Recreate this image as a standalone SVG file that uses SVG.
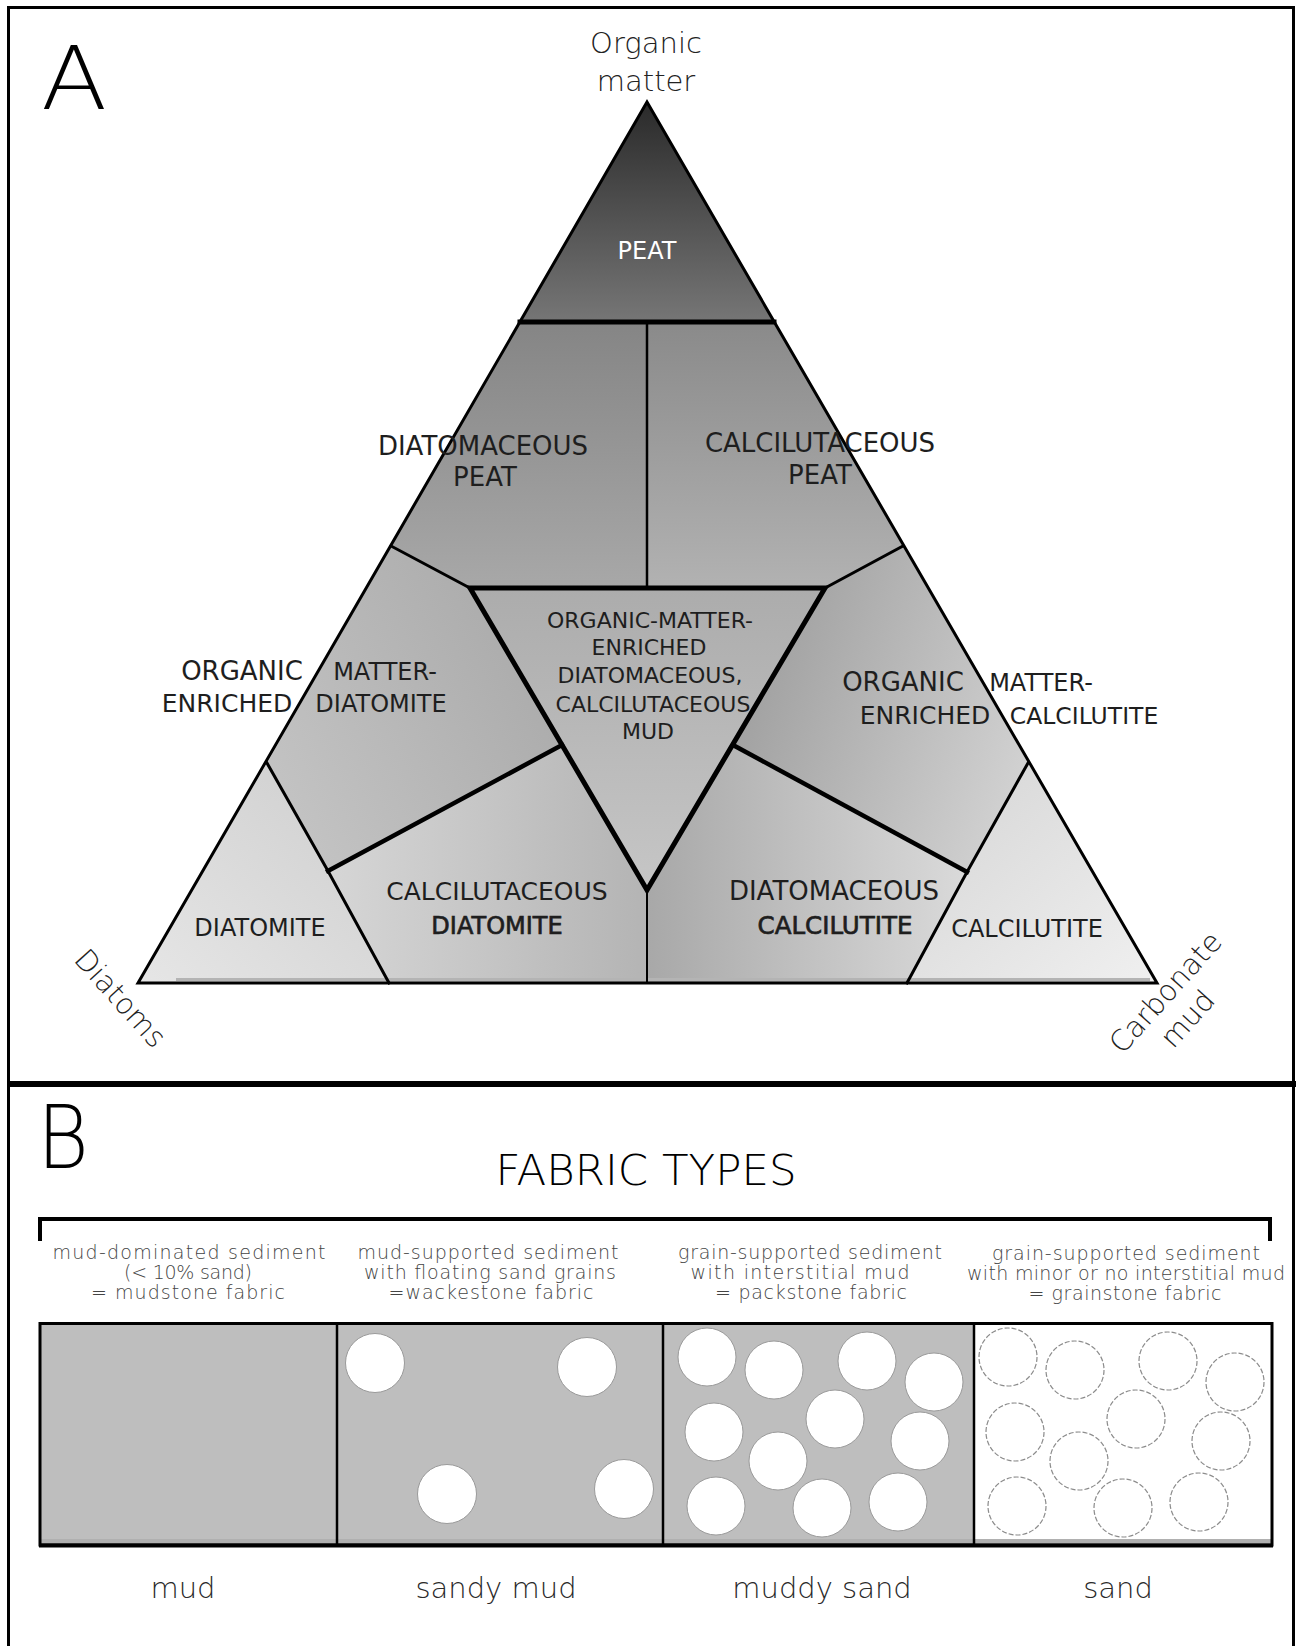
<svg xmlns="http://www.w3.org/2000/svg" width="1296" height="1646" viewBox="0 0 1296 1646">
<style>
.lbl{font-family:"DejaVu Sans","Liberation Sans",sans-serif;fill:#1e1e1e;text-anchor:middle}
.big{font-family:"DejaVu Sans","Liberation Sans",sans-serif;fill:#000;font-weight:200}
.axis{font-family:"DejaVu Sans","Liberation Sans",sans-serif;fill:#222;font-size:29px;text-anchor:middle;font-weight:200}
.sm{font-family:"DejaVu Sans","Liberation Sans",sans-serif;fill:#444;font-size:19px;text-anchor:middle;font-weight:200}
.bot{font-family:"DejaVu Sans","Liberation Sans",sans-serif;fill:#2a2a2a;font-size:29px;text-anchor:middle;font-weight:200}
.edge{fill:none;stroke:#000;stroke-linejoin:miter;stroke-linecap:square}
.grain{fill:#fff;stroke:#9a9a9a;stroke-width:1}
.dgrain{fill:none;stroke:#8c8c8c;stroke-width:1.2;stroke-dasharray:5 2}
</style>
<defs>
<linearGradient id="gPeat" gradientUnits="userSpaceOnUse" x1="0" y1="102" x2="0" y2="322"><stop offset="0" stop-color="#2a2a2a"/><stop offset="1" stop-color="#767676"/></linearGradient>
<linearGradient id="gUpL" gradientUnits="userSpaceOnUse" x1="0" y1="322" x2="0" y2="588"><stop offset="0" stop-color="#858585"/><stop offset="1" stop-color="#a8a8a8"/></linearGradient>
<linearGradient id="gUpR" gradientUnits="userSpaceOnUse" x1="0" y1="322" x2="0" y2="588"><stop offset="0" stop-color="#8a8a8a"/><stop offset="1" stop-color="#b2b2b2"/></linearGradient>
<linearGradient id="gCen" gradientUnits="userSpaceOnUse" x1="0" y1="588" x2="0" y2="890"><stop offset="0" stop-color="#acacac"/><stop offset="1" stop-color="#c6c6c6"/></linearGradient>
<linearGradient id="gOmL" x1="0" y1="0.8" x2="1" y2="0.2"><stop offset="0" stop-color="#c4c4c4"/><stop offset="1" stop-color="#a8a8a8"/></linearGradient>
<linearGradient id="gOmR" x1="0" y1="0.3" x2="1" y2="0.7"><stop offset="0" stop-color="#9c9c9c"/><stop offset="1" stop-color="#d2d2d2"/></linearGradient>
<linearGradient id="gDia" x1="1" y1="0" x2="0" y2="1"><stop offset="0" stop-color="#cdcdcd"/><stop offset="1" stop-color="#e6e6e6"/></linearGradient>
<linearGradient id="gCD" x1="0" y1="0.5" x2="1" y2="0.5"><stop offset="0" stop-color="#d6d6d6"/><stop offset="1" stop-color="#b4b4b4"/></linearGradient>
<linearGradient id="gDC" x1="0" y1="0.5" x2="1" y2="0.5"><stop offset="0" stop-color="#a8a8a8"/><stop offset="1" stop-color="#dadada"/></linearGradient>
<linearGradient id="gCal" x1="0" y1="0" x2="1" y2="1"><stop offset="0" stop-color="#d4d4d4"/><stop offset="1" stop-color="#f0f0f0"/></linearGradient>
</defs>

<g id="frame">
<path d="M8.5,1646 V7.5 H1293.5 V1646" fill="none" stroke="#000" stroke-width="3"/>
<line x1="7" y1="1084" x2="1296" y2="1084" stroke="#000" stroke-width="6"/>
</g>

<g id="panel-A">
<text class="big" transform="translate(41,109) scale(1.1,1)" font-size="88">A</text>
<g id="label-organic-matter">
<text class="axis" x="646" y="53">Organic</text>
<text class="axis" x="646" y="91">matter</text>
</g>
<g id="label-diatoms"><text class="axis" transform="translate(113,1005) rotate(48)">Diatoms</text></g>
<g id="label-carbonate-mud" transform="translate(1173,999) rotate(-48)">
<text class="axis" x="0" y="0">Carbonate</text>
<text class="axis" x="-5" y="34">mud</text>
</g>

<g id="region-peat">
<polygon points="647,102 774,322 520,322" fill="url(#gPeat)"/>
<text class="lbl" x="647" y="259" font-size="24" style="fill:#fff">PEAT</text>
</g>
<g id="region-diatomaceous-peat">
<polygon points="520,322 647,322 647,588 470,588 391,546" fill="url(#gUpL)"/>
</g>
<g id="region-calcilutaceous-peat">
<polygon points="647,322 774,322 903,546 825,588 647,588" fill="url(#gUpR)"/>
</g>
<g id="region-center">
<polygon points="470,588 825,588 647,890" fill="url(#gCen)"/>
</g>
<g id="region-om-diatomite">
<polygon points="391,546 470,588 562,745 328,871 267,763" fill="url(#gOmL)"/>
</g>
<g id="region-om-calcilutite">
<polygon points="903,546 1028,763 967,872 733,745 825,588" fill="url(#gOmR)"/>
</g>
<g id="region-diatomite">
<polygon points="267,763 328,871 389,983 138,983" fill="url(#gDia)"/>
</g>
<g id="region-calcilutaceous-diatomite">
<polygon points="328,871 562,745 647,890 647,983 389,983" fill="url(#gCD)"/>
</g>
<g id="region-diatomaceous-calcilutite">
<polygon points="647,890 733,745 967,872 907,983 647,983" fill="url(#gDC)"/>
</g>
<g id="region-calcilutite">
<polygon points="1028,763 1157,983 907,983 967,872" fill="url(#gCal)"/>
</g>
<line x1="176" y1="979.5" x2="1150" y2="979.5" stroke="#b4b4b4" stroke-width="3"/>

<g id="connectors">
<polygon class="edge" points="647,102 1157,983 138,983" stroke-width="3"/>
<line class="edge" x1="520" y1="322" x2="774" y2="322" stroke-width="5"/>
<line class="edge" x1="647" y1="322" x2="647" y2="588" stroke-width="2.5"/>
<line class="edge" x1="647" y1="890" x2="647" y2="983" stroke-width="2"/>
<polyline class="edge" points="391,546 470,588" stroke-width="3"/>
<polyline class="edge" points="903,546 825,588" stroke-width="3"/>
<polygon class="edge" points="470,588 825,588 647,890" stroke-width="5"/>
<line class="edge" x1="562" y1="745" x2="328" y2="871" stroke-width="4.5"/>
<line class="edge" x1="733" y1="745" x2="967" y2="872" stroke-width="4.5"/>
<polyline class="edge" points="267,763 328,871 389,983" stroke-width="3"/>
<polyline class="edge" points="1028,763 967,872 907,983" stroke-width="3"/>
</g>

<g id="labels-A">
<text class="lbl" x="483" y="455" font-size="26">DIATOMACEOUS</text>
<text class="lbl" x="485" y="486" font-size="26">PEAT</text>
<text class="lbl" x="820" y="452" font-size="26">CALCILUTACEOUS</text>
<text class="lbl" x="820" y="484" font-size="26">PEAT</text>
<text class="lbl" x="650" y="628" font-size="22">ORGANIC-MATTER-</text>
<text class="lbl" x="649" y="655" font-size="22">ENRICHED</text>
<text class="lbl" x="650" y="683" font-size="22">DIATOMACEOUS,</text>
<text class="lbl" x="653" y="712" font-size="22">CALCILUTACEOUS</text>
<text class="lbl" x="648" y="739" font-size="22">MUD</text>
<text class="lbl" x="242" y="680" font-size="26">ORGANIC</text>
<text class="lbl" x="385" y="680" font-size="24">MATTER-</text>
<text class="lbl" x="227" y="712" font-size="25">ENRICHED</text>
<text class="lbl" x="381" y="712" font-size="24">DIATOMITE</text>
<text class="lbl" x="903" y="691" font-size="26">ORGANIC</text>
<text class="lbl" x="1041" y="691" font-size="24">MATTER-</text>
<text class="lbl" x="925" y="724" font-size="25">ENRICHED</text>
<text class="lbl" x="1084" y="724" font-size="23.5">CALCILUTITE</text>
<text class="lbl" x="260" y="936" font-size="24">DIATOMITE</text>
<text class="lbl" x="497" y="900" font-size="25">CALCILUTACEOUS</text>
<text class="lbl" x="497" y="934" font-size="24" style="stroke:#1e1e1e;stroke-width:0.7">DIATOMITE</text>
<text class="lbl" x="834" y="900" font-size="26">DIATOMACEOUS</text>
<text class="lbl" x="835" y="934" font-size="24.5" style="stroke:#1e1e1e;stroke-width:0.7">CALCILUTITE</text>
<text class="lbl" x="1027" y="937" font-size="24">CALCILUTITE</text>
</g>
</g>

<g id="panel-B">
<text class="big" transform="translate(37,1168) scale(0.9,1)" font-size="88">B</text>
<text class="big" x="646" y="1185" font-size="43.5" text-anchor="middle">FABRIC TYPES</text>
<path id="bracket" d="M40,1241 V1219 H1270 V1241" fill="none" stroke="#000" stroke-width="4"/>

<g id="desc-mud">
<text class="sm" x="189" y="1259" textLength="273" lengthAdjust="spacing">mud-dominated sediment</text>
<text class="sm" x="188" y="1279" textLength="128" lengthAdjust="spacing">(&lt; 10% sand)</text>
<text class="sm" x="188" y="1299" textLength="194" lengthAdjust="spacing">=  mudstone fabric</text>
</g>
<g id="desc-sandy-mud">
<text class="sm" x="488" y="1259" textLength="261" lengthAdjust="spacing">mud-supported sediment</text>
<text class="sm" x="490" y="1279" textLength="252" lengthAdjust="spacing">with floating sand grains</text>
<text class="sm" x="491" y="1299" textLength="205" lengthAdjust="spacing">=wackestone fabric</text>
</g>
<g id="desc-muddy-sand">
<text class="sm" x="810" y="1259" textLength="264" lengthAdjust="spacing">grain-supported sediment</text>
<text class="sm" x="800" y="1279" textLength="219" lengthAdjust="spacing">with interstitial mud</text>
<text class="sm" x="811" y="1299" textLength="192" lengthAdjust="spacing">= packstone fabric</text>
</g>
<g id="desc-sand">
<text class="sm" x="1126" y="1260" textLength="268" lengthAdjust="spacing">grain-supported sediment</text>
<text class="sm" x="1126" y="1280" textLength="318" lengthAdjust="spacing">with minor or no interstitial mud</text>
<text class="sm" x="1125" y="1300" textLength="193" lengthAdjust="spacing">= grainstone fabric</text>
</g>

<g id="box-mud">
<rect x="39" y="1322" width="298" height="224" fill="#bebebe"/>
</g>
<g id="box-sandy-mud">
<rect x="337" y="1322" width="326" height="224" fill="#bebebe"/>
<circle class="grain" cx="375" cy="1363" r="29.5"/>
<circle class="grain" cx="587" cy="1367" r="29.5"/>
<circle class="grain" cx="447" cy="1494" r="29.5"/>
<circle class="grain" cx="624" cy="1489" r="29.5"/>
</g>
<g id="box-muddy-sand">
<rect x="663" y="1322" width="311" height="224" fill="#bebebe"/>
<circle class="grain" cx="707" cy="1357" r="29"/>
<circle class="grain" cx="774" cy="1370" r="29"/>
<circle class="grain" cx="867" cy="1361" r="29"/>
<circle class="grain" cx="934" cy="1382" r="29"/>
<circle class="grain" cx="835" cy="1419" r="29"/>
<circle class="grain" cx="714" cy="1432" r="29"/>
<circle class="grain" cx="920" cy="1441" r="29"/>
<circle class="grain" cx="778" cy="1461" r="29"/>
<circle class="grain" cx="716" cy="1506" r="29"/>
<circle class="grain" cx="822" cy="1508" r="29"/>
<circle class="grain" cx="898" cy="1502" r="29"/>
</g>
<g id="box-sand">
<rect x="974" y="1322" width="299" height="224" fill="#fff"/>
<circle class="dgrain" cx="1008" cy="1357" r="29"/>
<circle class="dgrain" cx="1075" cy="1370" r="29"/>
<circle class="dgrain" cx="1168" cy="1361" r="29"/>
<circle class="dgrain" cx="1235" cy="1382" r="29"/>
<circle class="dgrain" cx="1136" cy="1419" r="29"/>
<circle class="dgrain" cx="1015" cy="1432" r="29"/>
<circle class="dgrain" cx="1221" cy="1441" r="29"/>
<circle class="dgrain" cx="1079" cy="1461" r="29"/>
<circle class="dgrain" cx="1017" cy="1506" r="29"/>
<circle class="dgrain" cx="1123" cy="1508" r="29"/>
<circle class="dgrain" cx="1199" cy="1502" r="29"/>
</g>
<g id="box-frame">
<rect x="40.5" y="1539" width="1231" height="4" fill="#b0b0b0"/>
<rect x="40" y="1323.5" width="1232" height="221.5" fill="none" stroke="#000" stroke-width="3"/>
<line x1="39" y1="1545.5" x2="1273" y2="1545.5" stroke="#000" stroke-width="4"/>
<line x1="337" y1="1322" x2="337" y2="1545" stroke="#000" stroke-width="2.5"/>
<line x1="663" y1="1322" x2="663" y2="1545" stroke="#000" stroke-width="2.5"/>
<line x1="974" y1="1322" x2="974" y2="1545" stroke="#000" stroke-width="2.5"/>
</g>

<text class="bot" x="183" y="1598">mud</text>
<text class="bot" x="496" y="1598">sandy mud</text>
<text class="bot" x="822" y="1598">muddy sand</text>
<text class="bot" x="1118" y="1598">sand</text>
</g>
</svg>
